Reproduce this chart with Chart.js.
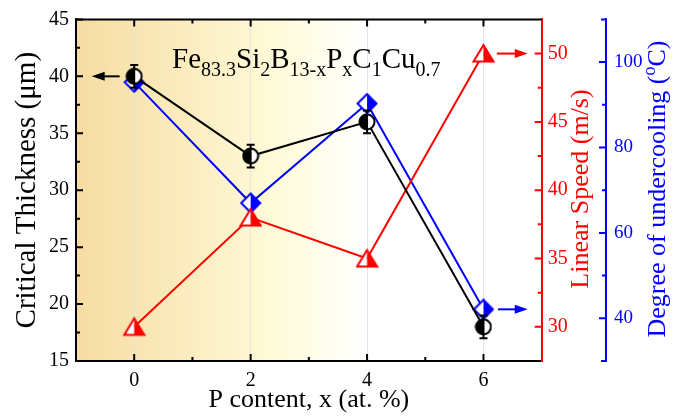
<!DOCTYPE html>
<html>
<head>
<meta charset="utf-8">
<script src="https://cdn.jsdelivr.net/npm/chart.js@4.4.0/dist/chart.umd.min.js"></script>
<style>
  html, body { margin: 0; padding: 0; background: #fff; }
</style>
</head>
<body>
<canvas id="chart" width="686" height="416"></canvas>
<script>
// data
const pContent     = [0, 2, 4, 6]
const thickness    = [40, 33, 36, 18]
const thicknessErr = [1, 1, 1, 1]
const speed        = [30, 38, 35, 50]
const undercooling = [95.3, 67, 90.3, 42.1]

const xTicks      = [0, 2, 4, 6]
const xMinor      = [1, 3, 5]
const thickTicks  = [15, 20, 25, 30, 35, 40, 45]
const thickMinor  = [17.5, 22.5, 27.5, 32.5, 37.5, 42.5]
const speedTicks  = [30, 35, 40, 45, 50]
const speedMinor  = [32.5, 37.5, 42.5, 47.5]
const coolTicks   = [40, 60, 80, 100]
const coolMinor   = [50, 70, 90]

const SERIF = "'Liberation Serif', 'Times New Roman', serif"
const RED = '#ff0000'
const BLUE = '#0000ff'

// half filled symbols, like the Origin ones
function symbol(shape, color, leftFill, rightFill, size) {
  const c = document.createElement('canvas')
  c.width = size; c.height = size
  const g = c.getContext('2d')
  const m = size / 2
  const p = new Path2D()
  if (shape === 'circle') {
    p.arc(m, m, m - 1.5, 0, Math.PI * 2)
  } else if (shape === 'diamond') {
    p.moveTo(m, 1.5); p.lineTo(size - 1.5, m); p.lineTo(m, size - 1.5); p.lineTo(1.5, m); p.closePath()
  } else {
    p.moveTo(m, m - 8.5); p.lineTo(size - 1.5, m + 8); p.lineTo(1.5, m + 8); p.closePath()
  }
  g.save()
  g.clip(p)
  g.fillStyle = leftFill;  g.fillRect(0, 0, m, size)
  g.fillStyle = rightFill; g.fillRect(m, 0, m, size)
  g.restore()
  g.lineWidth = 2
  g.strokeStyle = color
  g.stroke(p)
  return c
}

const circleSym   = symbol('circle', '#000', '#000', '#fff', 18)
const diamondSym  = symbol('diamond', BLUE, '#fff', BLUE, 22)
const triangleSym = symbol('triangle', RED, '#fff', RED, 23)

const pts = ys => pContent.map((x, i) => ({ x: x, y: ys[i] }))

function lines(ctx, segs, color, width) {
  ctx.save()
  ctx.strokeStyle = color
  ctx.lineWidth = width || 2
  ctx.beginPath()
  segs.forEach(s => { ctx.moveTo(s[0], s[1]); ctx.lineTo(s[2], s[3]) })
  ctx.stroke()
  ctx.restore()
}

function arrow(ctx, x1, x2, y, color) {
  const d = Math.sign(x2 - x1)
  ctx.save()
  ctx.strokeStyle = color
  ctx.fillStyle = color
  ctx.lineWidth = 2
  ctx.beginPath(); ctx.moveTo(x1, y); ctx.lineTo(x2 - d * 8, y); ctx.stroke()
  ctx.beginPath()
  ctx.moveTo(x2, y); ctx.lineTo(x2 - d * 13, y - 4.5); ctx.lineTo(x2 - d * 13, y + 4.5)
  ctx.closePath(); ctx.fill()
  ctx.restore()
}

// text pieces: [text, size, baseline shift]
function richText(ctx, parts, x, y, color) {
  ctx.fillStyle = color
  ctx.textBaseline = 'alphabetic'
  ctx.textAlign = 'left'
  parts.forEach(p => {
    ctx.font = p[1] + 'px ' + SERIF
    ctx.fillText(p[0], x, y + p[2])
    x += ctx.measureText(p[0]).width
  })
}

function vertText(ctx, parts, cx, cy, color) {
  let w = 0
  parts.forEach(p => { ctx.font = p[1] + 'px ' + SERIF; w += ctx.measureText(p[0]).width })
  ctx.save()
  ctx.translate(cx, cy)
  ctx.rotate(-Math.PI / 2)
  richText(ctx, parts, -w / 2, parts[0][1] * 0.32, color)
  ctx.restore()
}

const decor = {
  id: 'decor',
  beforeDraw(chart) {
    const { ctx, chartArea: a, scales } = chart
    const g = ctx.createLinearGradient(a.left, 0, scales.x.getPixelForValue(4), 0)
    g.addColorStop(0, '#f6dca2')
    g.addColorStop(0.35, '#fbebbd')
    g.addColorStop(0.7, '#fffbda')
    g.addColorStop(1, '#ffffff')
    ctx.save()
    ctx.fillStyle = g
    ctx.fillRect(a.left, a.top, a.right - a.left, a.bottom - a.top)
    ctx.restore()
  },
  afterDatasetsDraw(chart) {
    const { ctx, scales } = chart
    const { x, y } = scales
    const segs = []
    pContent.forEach((v, i) => {
      const px = x.getPixelForValue(v)
      const hi = y.getPixelForValue(thickness[i] + thicknessErr[i])
      const lo = y.getPixelForValue(thickness[i] - thicknessErr[i])
      segs.push([px, hi, px, lo], [px - 4, hi, px + 4, hi], [px - 4, lo, px + 4, lo])
    })
    lines(ctx, segs, '#000', 2)
  },
  afterDraw(chart) {
    const { ctx, chartArea: a, scales } = chart
    const { x, y, ySpeed, yCool } = scales

    // top frame
    lines(ctx, [[a.left - 1, a.top, a.right, a.top]], '#000', 2)

    // inward ticks
    const t = []
    xTicks.forEach(v => { const p = x.getPixelForValue(v); t.push([p, a.bottom, p, a.bottom - 7], [p, a.top, p, a.top + 7]) })
    xMinor.forEach(v => { const p = x.getPixelForValue(v); t.push([p, a.bottom, p, a.bottom - 4], [p, a.top, p, a.top + 4]) })
    thickTicks.forEach(v => { const p = y.getPixelForValue(v); t.push([a.left, p, a.left + 7, p]) })
    thickMinor.forEach(v => { const p = y.getPixelForValue(v); t.push([a.left, p, a.left + 4, p]) })
    lines(ctx, t, '#000', 2)

    const r = []
    speedTicks.forEach(v => { const p = ySpeed.getPixelForValue(v); r.push([a.right, p, a.right - 7, p]) })
    speedMinor.forEach(v => { const p = ySpeed.getPixelForValue(v); r.push([a.right, p, a.right - 4, p]) })
    lines(ctx, r, RED, 2)

    const b = []
    const bx = yCool.left
    coolTicks.forEach(v => { const p = yCool.getPixelForValue(v); b.push([bx, p, bx - 7, p]) })
    coolMinor.forEach(v => { const p = yCool.getPixelForValue(v); b.push([bx, p, bx - 4, p]) })
    b.push([bx + 1, yCool.top, bx - 5, yCool.top], [bx + 1, yCool.bottom, bx - 5, yCool.bottom])
    lines(ctx, b, BLUE, 2)

    // arrows pointing at each series' axis
    arrow(ctx, x.getPixelForValue(-0.25), x.getPixelForValue(-0.73), y.getPixelForValue(thickness[0]), '#000')
    arrow(ctx, x.getPixelForValue(6.23), x.getPixelForValue(6.76), ySpeed.getPixelForValue(speed[3]), RED)
    arrow(ctx, x.getPixelForValue(6.25), x.getPixelForValue(6.76), yCool.getPixelForValue(undercooling[3]), BLUE)

    // composition label
    richText(ctx, [
      ['Fe', 29, 0], ['83.3', 20, 8], ['Si', 29, 0], ['2', 20, 8], ['B', 29, 0], ['13-x', 20, 8],
      ['P', 29, 0], ['x', 20, 8], ['C', 29, 0], ['1', 20, 8], ['Cu', 29, 0], ['0.7', 20, 8]
    ], 172, 68, '#000')

    // right axis titles read bottom to top
    vertText(ctx, [['Linear Speed (m/s)', 26, 0]], 580, 189, RED)
    vertText(ctx, [['Degree of undercooling (', 26, 0], ['o', 18, -10], ['C)', 26, 0]], 657, 189, BLUE)
  }
}

new Chart(document.getElementById('chart'), {
  type: 'line',
  data: {
    datasets: [{
      label: 'Critical Thickness',
      data: pts(thickness),
      yAxisID: 'y',
      borderColor: '#000',
      borderWidth: 2,
      pointStyle: circleSym,
      pointRadius: 9
    }, {
      label: 'Linear Speed',
      data: pts(speed),
      yAxisID: 'ySpeed',
      borderColor: RED,
      borderWidth: 2,
      pointStyle: triangleSym,
      pointRadius: 10
    }, {
      label: 'Degree of undercooling',
      data: pts(undercooling),
      yAxisID: 'yCool',
      borderColor: BLUE,
      borderWidth: 2,
      pointStyle: diamondSym,
      pointRadius: 10
    }]
  },
  options: {
    responsive: false,
    animation: false,
    layout: { padding: { top: 18, left: 0, right: 0, bottom: 0 } },
    plugins: { legend: { display: false }, tooltip: { enabled: false } },
    scales: {
      x: {
        type: 'linear',
        min: -1,
        max: 7,
        afterBuildTicks: s => { s.ticks = xTicks.map(v => ({ value: v })) },
        afterFit: s => { s.height = 55 },
        grid: { color: '#e4e4e4', lineWidth: 1, drawTicks: false },
        border: { color: '#000', width: 2 },
        ticks: { color: '#000', font: { family: SERIF, size: 20 }, padding: 8, maxRotation: 0 },
        title: { display: true, text: 'P content, x (at. %)', color: '#000', font: { family: SERIF, size: 26 }, padding: { top: 0, bottom: 0 } }
      },
      y: {
        position: 'left',
        min: 15,
        max: 45,
        afterBuildTicks: s => { s.ticks = thickTicks.map(v => ({ value: v })) },
        afterFit: s => { s.width = 76 },
        grid: { display: false, drawTicks: false },
        border: { color: '#000', width: 2 },
        ticks: { color: '#000', font: { family: SERIF, size: 20 }, padding: 7 },
        title: { display: true, text: 'Critical Thickness (μm)', color: '#000', font: { family: SERIF, size: 29 }, padding: { top: 10, bottom: 0 } }
      },
      ySpeed: {
        position: 'right',
        weight: 1,
        min: 27.5,
        max: 52.5,
        afterBuildTicks: s => { s.ticks = speedTicks.map(v => ({ value: v })) },
        afterFit: s => { s.width = 64.3 },
        grid: { display: false, drawTicks: false },
        border: { color: RED, width: 2 },
        ticks: { color: RED, font: { family: SERIF, size: 20 }, padding: 6 }
      },
      yCool: {
        position: 'right',
        weight: 2,
        min: 30,
        max: 110,
        afterBuildTicks: s => { s.ticks = coolTicks.map(v => ({ value: v })) },
        afterFit: s => { s.width = 80 },
        grid: { display: false, drawTicks: false },
        border: { color: BLUE, width: 2 },
        ticks: { color: BLUE, font: { family: SERIF, size: 19 }, padding: 8 }
      }
    }
  },
  plugins: [decor]
})
</script>
</body>
</html>
